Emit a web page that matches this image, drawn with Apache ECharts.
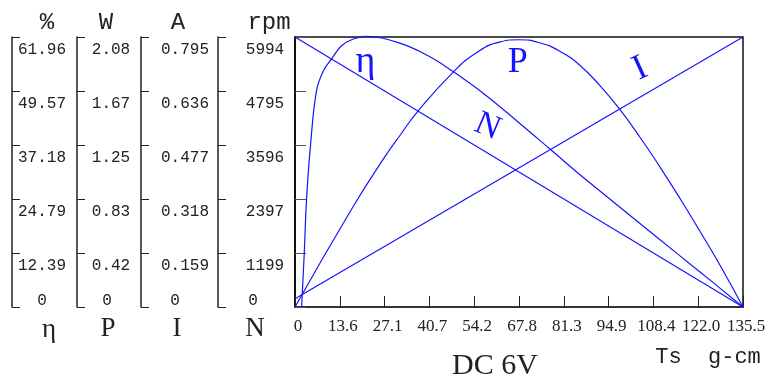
<!DOCTYPE html>
<html>
<head>
<meta charset="utf-8">
<script src="https://cdn.jsdelivr.net/npm/echarts@6/dist/echarts.min.js"></script>
<style>
html, body { margin: 0; padding: 0; background: #fff; }
#chart { width: 780px; height: 383px; }
</style>
</head>
<body>
<div id="chart"></div>
<script>
// tick labels as printed on the sheet
var torqueTicks = ['0', '13.6', '27.1', '40.7', '54.2', '67.8', '81.3', '94.9', '108.4', '122.0', '135.5'];
var effTicks = ['0', '12.39', '24.79', '37.18', '49.57', '61.96'];
var powerTicks = ['0', '0.42', '0.83', '1.25', '1.67', '2.08'];
var currentTicks = ['0', '0.159', '0.318', '0.477', '0.636', '0.795'];
var speedTicks = ['0', '1199', '2397', '3596', '4795', '5994'];

// curves (torque g-cm)
var effT = [2.0, 2.8, 3.5, 4.7, 6.5, 8.6, 11.1, 14.0, 17.6, 21.5, 31.9, 40.4, 47.5, 57.0, 67.1, 77.2, 86.3, 95.2, 108.8, 122.4, 135.5];
var effPct = [0, 12.4, 24.8, 37.2, 49.6, 54.2, 57.0, 59.9, 61.5, 62.1, 60.5, 57.6, 54.2, 49.0, 42.7, 36.2, 30.3, 24.8, 16.4, 8.1, 0];

var powerT = [0, 17.6, 27.1, 31.9, 36.9, 47.5, 55.0, 62.1, 67.6, 74.2, 80.2, 86.3, 92.3, 98.3, 104.4, 110.5, 116.5, 122.6, 128.6, 135.5];
var powerW = [0, 0.774, 1.154, 1.327, 1.500, 1.800, 1.961, 2.043, 2.059, 2.034, 1.969, 1.859, 1.703, 1.520, 1.306, 1.074, 0.834, 0.578, 0.320, 0];

var currentT = [0, 135.5];
var currentA = [0.024, 0.795];

var speedT = [0, 135.5];
var speedRpm = [5994, 0];

var BLUE = '#1414ff';
var INK = '#222';

function pairs(xs, ys) {
    return xs.map(function (x, i) { return [x, ys[i]]; });
}

// one bracket-style scale to the left of the plot
function scaleAxis(offset, ticks, margin, zeroShift, unit, unitShift) {
    var max = parseFloat(ticks[ticks.length - 1]);
    var step = max / (ticks.length - 1);
    return {
        type: 'value',
        position: 'left',
        offset: offset,
        min: 0,
        max: max,
        interval: step,
        name: unit,
        nameLocation: 'end',
        nameGap: 2,
        nameTextStyle: {
            fontFamily: 'Liberation Mono',
            fontSize: 24,
            color: INK,
            padding: [0, 0, 0, unitShift * 2]
        },
        axisLine: { show: true, lineStyle: { color: INK, width: 1.5 } },
        axisTick: { show: true, inside: true, length: 8, lineStyle: { color: INK, width: 1 } },
        splitLine: { show: false },
        axisLabel: {
            inside: true,
            align: 'center',
            margin: margin,
            fontFamily: 'Liberation Mono',
            fontSize: 16,
            color: INK,
            formatter: function (v) {
                var i = Math.round(v / step);
                return i === 0 ? '{z|' + ticks[0] + '}' : '{a|' + ticks[i] + '}';
            },
            rich: {
                a: { fontFamily: 'Liberation Mono', fontSize: 16, color: INK, padding: [26, 0, 0, 0] },
                z: { fontFamily: 'Liberation Mono', fontSize: 16, color: INK, padding: [0, zeroShift * 2, 12, 0] }
            }
        }
    };
}

var chart = echarts.init(document.getElementById('chart'));

var torqueStep = 135.5 / (torqueTicks.length - 1);

var option = {
    animation: false,
    grid: {
        left: 295, right: 37, top: 37, bottom: 76,
        show: true, borderColor: '#111', borderWidth: 1.5
    },
    xAxis: {
        type: 'value',
        min: 0,
        max: 135.5,
        interval: torqueStep,
        axisLine: { show: true, lineStyle: { color: '#333', width: 2 } },
        axisTick: { show: true, inside: true, length: 11, lineStyle: { color: INK } },
        splitLine: { show: false },
        axisLabel: {
            margin: 11,
            fontFamily: 'Liberation Serif',
            fontSize: 17,
            color: INK,
            padding: [0, 0, 0, 6],
            showMinLabel: true,
            showMaxLabel: true,
            formatter: function (v) { return torqueTicks[Math.round(v / torqueStep)]; }
        }
    },
    yAxis: [
        {
            // plot frame's own left edge, speed scale, no labels
            type: 'value',
            position: 'left',
            min: 0,
            max: 5994,
            interval: 5994 / 5,
            axisLine: { show: true, lineStyle: { color: '#111', width: 2 } },
            axisTick: { show: true, inside: true, length: 11, lineStyle: { color: '#555' } },
            axisLabel: { show: false },
            splitLine: { show: false }
        },
        scaleAxis(283, effTicks, 30, 0, '%', 35),
        scaleAxis(218, powerTicks, 34, 4, 'W', 29),
        scaleAxis(154, currentTicks, 44, 10, 'A', 37),
        scaleAxis(77, speedTicks, 47, 12, 'rpm', 51)
    ],
    series: [
        {
            name: 'N', type: 'line', yAxisIndex: 0, data: pairs(speedT, speedRpm),
            showSymbol: false, lineStyle: { color: BLUE, width: 1.2 }, clip: false
        },
        {
            name: 'η', type: 'line', yAxisIndex: 1, data: pairs(effT, effPct),
            smooth: 0.4, showSymbol: false, lineStyle: { color: BLUE, width: 1.2 }, clip: false
        },
        {
            name: 'P', type: 'line', yAxisIndex: 2, data: pairs(powerT, powerW),
            smooth: 0.5, showSymbol: false, lineStyle: { color: BLUE, width: 1.2 }, clip: false
        },
        {
            name: 'I', type: 'line', yAxisIndex: 3, data: pairs(currentT, currentA),
            showSymbol: false, lineStyle: { color: BLUE, width: 1.2 }, clip: false
        }
    ]
};

chart.setOption(option);

// curve tags, placed in data space of each curve
function at(axisIdx, p) {
    return chart.convertToPixel({ xAxisIndex: 0, yAxisIndex: axisIdx }, p);
}
var pEta = at(1, [21.3, 56.2]);
var pPow = at(2, [67.4, 1.88]);
var pSpd = at(0, [58.2, 3998]);
var pCur = at(3, [104.4, 0.701]);

function tag(text, pt, size, rot) {
    return {
        type: 'text', x: pt[0], y: pt[1], rotation: rot || 0,
        style: {
            text: text, fill: BLUE, fontFamily: 'Liberation Serif', fontSize: size,
            align: 'center', verticalAlign: 'middle'
        }
    };
}
function plain(text, x, y, size, family) {
    return {
        type: 'text', x: x, y: y,
        style: {
            text: text, fill: INK, fontFamily: family, fontSize: size,
            align: 'center', verticalAlign: 'middle'
        }
    };
}

chart.setOption({
    graphic: [
        tag('η', pEta, 38),
        tag('P', pPow, 36),
        tag('N', pSpd, 34, -0.4),
        tag('I', pCur, 36, 0.43),
        plain('η', 49, 330, 27, 'Liberation Serif'),
        plain('P', 108, 329, 27, 'Liberation Serif'),
        plain('I', 177, 329, 27, 'Liberation Serif'),
        plain('N', 255, 329, 27, 'Liberation Serif'),
        plain('Ts  g-cm', 708, 357, 22, 'Liberation Mono'),
        plain('DC 6V', 495, 366, 30, 'Liberation Serif')
    ]
});
</script>
</body>
</html>
